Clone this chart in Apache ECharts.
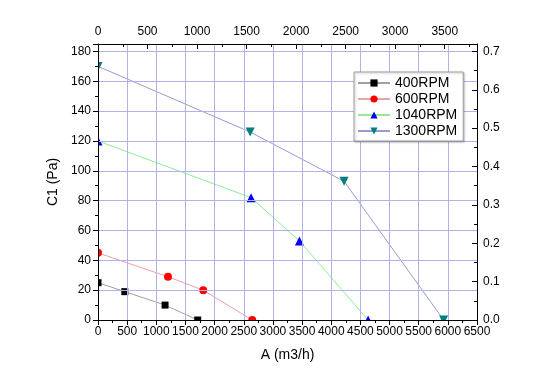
<!DOCTYPE html>
<html>
<head>
<meta charset="utf-8">
<script src="https://cdn.jsdelivr.net/npm/echarts@6/dist/echarts.min.js"></script>
<style>html,body{margin:0;padding:0;background:#fff;}#c{width:554px;height:386px;}</style>
</head>
<body>
<div id="c"></div>
<script>
// Data (flow A in m3/h, pressure C1 in Pa)
const seriesNames = ['400RPM', '600RPM', '1040RPM', '1300RPM'];
const flow400 = [0, 460, 1150, 1710];
const press400 = [25, 19, 10, 0];
const flow600 = [0, 1200, 1805, 2645];
const press600 = [45, 29, 20, 0];
const flow1040 = [0, 2625, 3455, 4633];
const press1040 = [120, 82, 53, 0];
const flow1300 = [0, 2610, 4220, 5928];
const press1300 = [170, 126, 93, 0];

const bottomMax = 6500;      // m3/h
const topMax = 6500 / 1.699; // CFM equivalent
const leftMax = 185;         // Pa
const rightMax = 185 * 0.7 / 180;

function pairs(xs, ys) { return xs.map((x, i) => [x, ys[i]]); }

const font = 'Liberation Sans, Arial, sans-serif';
const gridCol = '#b2b2e8';
const chart = echarts.init(document.getElementById('c'));
const G = {left: 98, right: 77, top: 44, bottom: 66};
const intFmt = v => String(Math.round(v));

chart.setOption({
  animation: false,
  backgroundColor: '#fff',
  grid: {left: G.left, right: G.right, top: G.top, bottom: G.bottom, containLabel: false},
  graphic: [
    {type: 'rect', z: 3, silent: true, shape: {x: 0, y: 0, width: G.left, height: 386}, style: {fill: '#fff'}},
    {type: 'rect', z: 3, silent: true, shape: {x: 0, y: 386 - G.bottom + 0.5, width: 554, height: G.bottom}, style: {fill: '#fff'}}
  ],
  legend: {
    z: 6,
    orient: 'vertical',
    left: 354, top: 72,
    itemWidth: 32, itemHeight: 9, itemGap: 0,
    padding: [3, 6, 2, 3],
    backgroundColor: '#fff',
    borderColor: '#a0a0a0', borderWidth: 1,
    shadowColor: 'rgba(0,0,0,0.25)', shadowBlur: 2, shadowOffsetX: 1, shadowOffsetY: 1,
    textStyle: {fontFamily: font, fontSize: 14, color: '#000', lineHeight: 16, height: 16, padding: [0, 0, 0, 0]},
    data: seriesNames
  },
  xAxis: [
    {
      type: 'value', position: 'bottom', min: 0, max: bottomMax, interval: 500, z: 4,
      name: 'A (m3/h)', nameLocation: 'middle', nameGap: 28,
      nameTextStyle: {fontFamily: font, fontSize: 14, color: '#000'},
      axisLine: {show: true, onZero: false, lineStyle: {color: '#000', width: 1}},
      axisTick: {show: true, inside: false, length: 5, lineStyle: {color: '#000'}},
      minorTick: {show: true, splitNumber: 2, length: 3, lineStyle: {color: '#000'}},
      axisLabel: {fontFamily: font, fontSize: 12, color: '#000', margin: 6, interval: 0, formatter: intFmt},
      splitLine: {show: true, lineStyle: {color: gridCol, width: 1}}
    },
    {
      type: 'value', position: 'top', min: 0, max: topMax, interval: 500, z: 4,
      axisLine: {show: true, onZero: false, lineStyle: {color: '#000', width: 1}},
      axisTick: {show: true, inside: true, length: 5, lineStyle: {color: '#000'}},
      minorTick: {show: true, splitNumber: 2, length: 3, lineStyle: {color: '#000'}},
      axisLabel: {fontFamily: font, fontSize: 12, color: '#000', margin: 6, showMaxLabel: false, interval: 0, formatter: intFmt},
      splitLine: {show: false}
    }
  ],
  yAxis: [
    {
      type: 'value', position: 'left', min: 0, max: leftMax, interval: 20, z: 4,
      name: 'C1 (Pa)', nameLocation: 'middle', nameGap: 36,
      nameTextStyle: {fontFamily: font, fontSize: 14, color: '#000'},
      axisLine: {show: true, onZero: false, lineStyle: {color: '#000', width: 1}},
      axisTick: {show: true, inside: false, length: 5, lineStyle: {color: '#000'}},
      minorTick: {show: true, splitNumber: 2, length: 3, lineStyle: {color: '#000'}},
      axisLabel: {fontFamily: font, fontSize: 12, color: '#000', margin: 7, showMaxLabel: false, formatter: intFmt},
      splitLine: {show: true, showMaxLine: false, lineStyle: {color: gridCol, width: 1}}
    },
    {
      type: 'value', position: 'right', min: 0, max: rightMax, interval: 0.1, z: 4,
      axisLine: {show: true, onZero: false, lineStyle: {color: '#000', width: 1}},
      axisTick: {show: true, inside: true, length: 5, lineStyle: {color: '#000'}},
      minorTick: {show: true, splitNumber: 2, length: 3, lineStyle: {color: '#000'}},
      axisLabel: {fontFamily: font, fontSize: 12, color: '#000', margin: 6, showMaxLabel: false,
        formatter: v => v.toFixed(1)},
      splitLine: {show: false}
    }
  ],
  series: [
    {name: seriesNames[0], type: 'line', z: 2, data: pairs(flow400, press400), symbol: 'rect', symbolSize: 7,
      itemStyle: {color: '#000'}, lineStyle: {color: '#a0a0a0', width: 1}, clip: false},
    {name: seriesNames[1], type: 'line', z: 2, data: pairs(flow600, press600), symbol: 'circle', symbolSize: 8,
      itemStyle: {color: '#ff0000'}, lineStyle: {color: '#f0a0a8', width: 1}, clip: false},
    {name: seriesNames[2], type: 'line', z: 2, data: pairs(flow1040, press1040), symbol: 'triangle', symbolSize: 9,
      itemStyle: {color: '#0000ff'}, lineStyle: {color: '#90ee90', width: 1}, clip: false},
    {name: seriesNames[3], type: 'line', z: 2, data: pairs(flow1300, press1300), symbol: 'triangle', symbolRotate: 180, symbolSize: 9,
      itemStyle: {color: '#007f7f'}, lineStyle: {color: '#9a9ad0', width: 1}, clip: false}
  ]
});
</script>
</body>
</html>
